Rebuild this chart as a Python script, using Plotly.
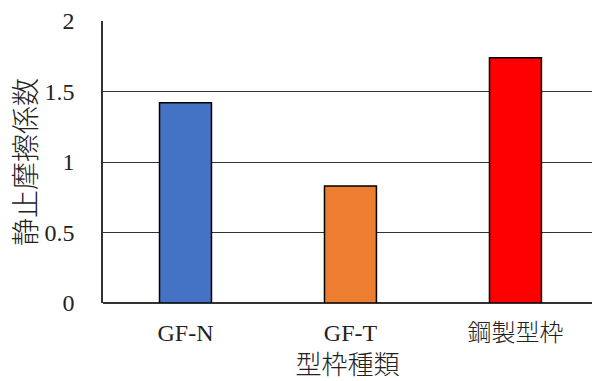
import plotly.graph_objects as go

categories = ["GF-N", "GF-T", "鋼製型枠"]
values = [1.42, 0.83, 1.74]
colors = ["#4472C4", "#ED7D31", "#FF0000"]
y_ticks = [0, 0.5, 1, 1.5, 2]
y_ticktext = ["0", "0.5", "1", "1.5", "2"]

FONT = "Liberation Serif, Times New Roman, Noto Sans CJK JP, serif"
CJK = "Noto Sans CJK JP, sans-serif"

fig = go.Figure(go.Bar(
    x=categories, y=values, width=0.315,
    marker=dict(color=colors, line=dict(color="black", width=1.5)),
))

fig.update_layout(
    width=592, height=381,
    margin=dict(l=103, r=0, t=21, b=78),
    paper_bgcolor="white", plot_bgcolor="white",
    showlegend=False,
    font=dict(family=FONT, size=24, color="#222"),
    xaxis=dict(
        range=[-0.5, 2.464], showgrid=False, zeroline=False,
        showline=False, ticks="outside", ticklen=8, tickcolor="rgba(0,0,0,0)",
        tickfont=dict(family=FONT, size=24, weight=300),
        title=dict(text="型枠種類", font=dict(family=CJK, size=26, weight=300), standoff=7),
    ),
    yaxis=dict(
        range=[0, 2], tickvals=y_ticks, ticktext=y_ticktext,
        showgrid=True, gridcolor="#333", gridwidth=1.3,
        zeroline=True, zerolinecolor="#333", zerolinewidth=1.5,
        showline=True, linecolor="#333", linewidth=1.5,
        ticks="outside", ticklen=22, tickcolor="rgba(0,0,0,0)",
        tickfont=dict(family=FONT, size=24),
        title=dict(text="静止摩擦係数", font=dict(family=CJK, size=28, weight=300), standoff=0),
    ),
)

fig.write_html("out.html")
